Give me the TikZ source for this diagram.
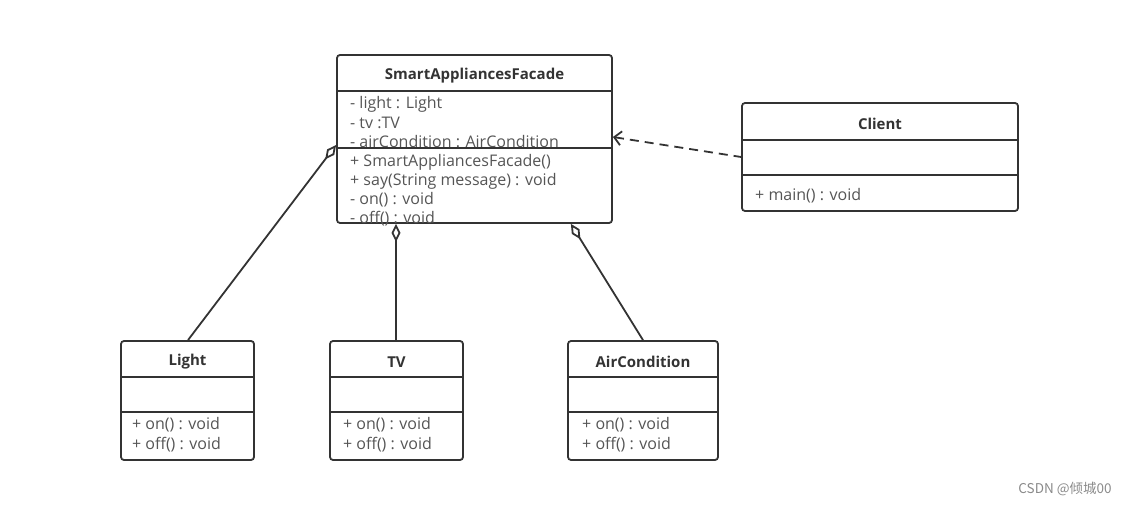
\documentclass[tikz,border=0pt]{standalone}
\usepackage{fontspec}
\setmainfont{Open Sans}
\newfontfamily\cjk{Noto Sans CJK SC}
\usetikzlibrary{arrows.meta}
\definecolor{linec}{HTML}{333333}
\definecolor{titlec}{HTML}{333333}
\definecolor{itemc}{HTML}{555555}
\definecolor{markc}{HTML}{8A8A8A}
\tikzset{
 umlbox/.style={draw=linec,line width=1.8pt,rounded corners=3pt,inner sep=0pt},
 umltitle/.style={yshift=-2pt,font=\bfseries\fontsize{15}{17}\selectfont,text=titlec},
 umlitem/.style={anchor=west,yshift=-2pt,inner sep=0pt,font=\fontsize{16}{18}\selectfont,text=itemc},
 divider/.style={draw=linec,line width=1.5pt},
 aggr/.style={draw=linec,line width=1.8pt,{Diamond[open,length=18pt,width=9pt]}-},
 dep/.style={draw=linec,line width=1.8pt,dash pattern=on 9pt off 6pt,{Straight Barb[length=7pt,width=14pt]}-}
}
\begin{document}
\begin{tikzpicture}[x=1pt,y=-1pt]
 \useasboundingbox (0,0) rectangle (1128,505);
 % facade
 \node[umlbox,minimum width=275pt,minimum height=168pt] (facade) at (474.5,139) {};
 \draw[divider] (facade.west |- 0,91) -- (facade.east |- 0,91);
 \draw[divider] (facade.west |- 0,148) -- (facade.east |- 0,148);
 \node[umltitle] (facadename) at (474.5,74) {SmartAppliancesFacade};
 \node[umlitem] (facadeattr1) at (350,102) {- light : Light};
 \node[umlitem] (facadeattr2) at (350,121) {- tv :TV};
 \node[umlitem] (facadeattr3) at (350,140) {- airCondition : AirCondition};
 \node[umlitem] (facadeop1) at (350,160) {+ SmartAppliancesFacade()};
 \node[umlitem] (facadeop2) at (350,179) {+ say(String message) : void};
 \node[umlitem] (facadeop3) at (350,198) {- on() : void};
 \node[umlitem] (facadeop4) at (350,217) {- off() : void};
 % client
 \node[umlbox,minimum width=276pt,minimum height=108pt] (client) at (880,157) {};
 \draw[divider] (client.west |- 0,140) -- (client.east |- 0,140);
 \draw[divider] (client.west |- 0,175) -- (client.east |- 0,175);
 \node[umltitle] (clientname) at (880,122) {Client};
 \node[umlitem] (clientop1) at (755,194) {+ main() : void};
 % light
 \node[umlbox,minimum width=133pt,minimum height=119pt] (light) at (187.5,400.5) {};
 \draw[divider] (light.west |- 0,377) -- (light.east |- 0,377);
 \draw[divider] (light.west |- 0,412) -- (light.east |- 0,412);
 \node[umltitle] (lightname) at (187.5,360) {Light};
 \node[umlitem] (lightop1) at (132,423) {+ on() : void};
 \node[umlitem] (lightop2) at (132,443) {+ off() : void};
 % tv
 \node[umlbox,minimum width=133pt,minimum height=119pt] (tv) at (396.5,400.5) {};
 \draw[divider] (tv.west |- 0,377) -- (tv.east |- 0,377);
 \draw[divider] (tv.west |- 0,412) -- (tv.east |- 0,412);
 \node[umltitle] (tvname) at (396.5,360) {TV};
 \node[umlitem] (tvop1) at (343,423) {+ on() : void};
 \node[umlitem] (tvop2) at (343,443) {+ off() : void};
 % air condition
 \node[umlbox,minimum width=150pt,minimum height=119pt] (aircon) at (643,400.5) {};
 \draw[divider] (aircon.west |- 0,377) -- (aircon.east |- 0,377);
 \draw[divider] (aircon.west |- 0,412) -- (aircon.east |- 0,412);
 \node[umltitle] (airconname) at (643,360) {AirCondition};
 \node[umlitem] (airconop1) at (582,423) {+ on() : void};
 \node[umlitem] (airconop2) at (582,443) {+ off() : void};
 % relations
 \draw[aggr] ([yshift=-6pt]facade.west) -- ([xshift=0.5pt]light.north);
 \draw[aggr] ([xshift=-0.5pt]tv.north |- facade.south) -- ([xshift=-0.5pt]tv.north);
 \draw[aggr] ([xshift=-42pt]facade.south east) -- (aircon.north);
 \draw[dep] ([yshift=2pt]facade.east) -- (client.west);
 \node[font=\cjk\fontsize{13.5}{15}\selectfont,text=markc] (mark) at (1065,489) {CSDN @倾城00};
\end{tikzpicture}
\end{document}
